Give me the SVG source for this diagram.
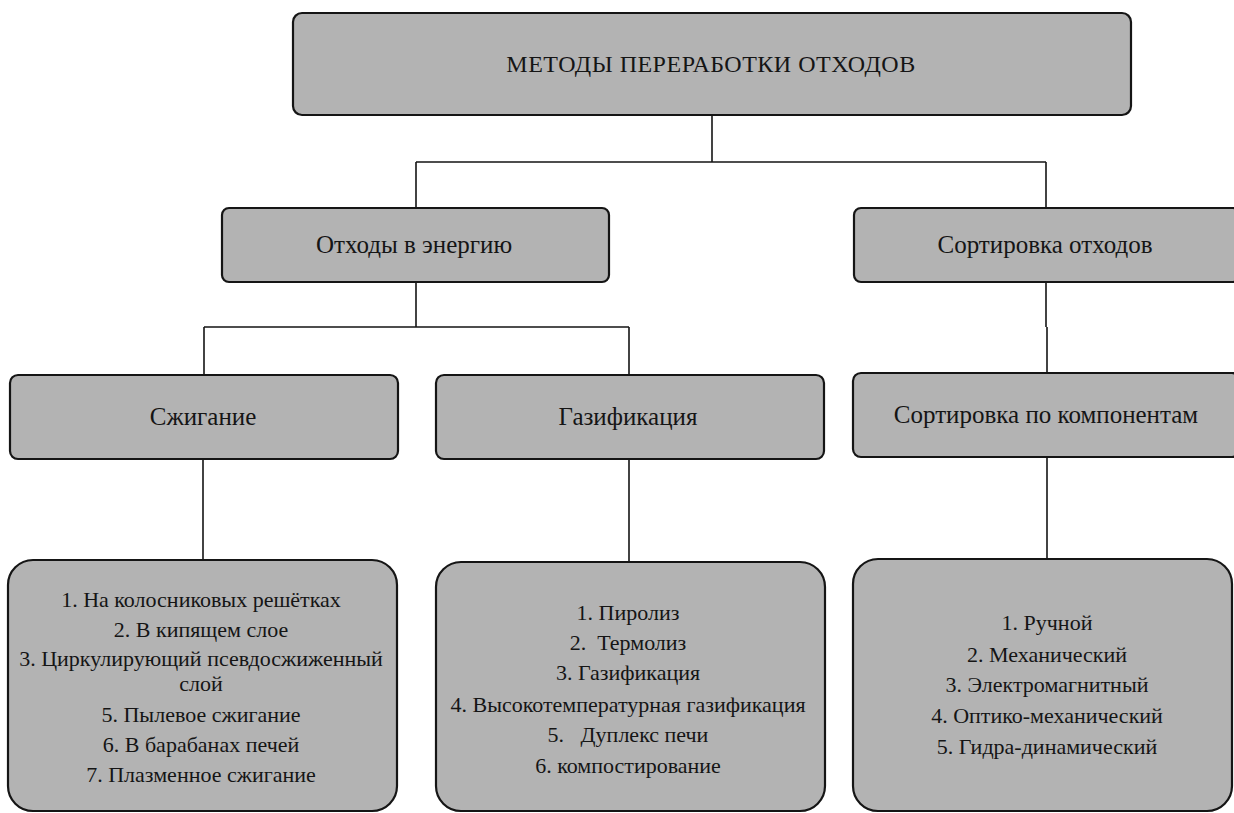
<svg xmlns="http://www.w3.org/2000/svg" width="1234" height="813" viewBox="0 0 1234 813">
<style>
.box{fill:#b3b3b3;stroke:#151515;stroke-width:2.2}
.t{fill:#151515;text-anchor:middle;font-family:'Liberation Serif','Times New Roman',serif}
.h{font-size:25px}
.l{font-size:22px}
.c{stroke:#151515;stroke-width:1.6;fill:none}
</style>
<rect width="1234" height="813" fill="#fff"/>
<g id="connectors">
<path class="c" d="M712 115V162" stroke-width="2.6"/>
<path class="c" d="M416 162H1046M416 162V208M1046 162V208"/>
<path class="c" d="M416 282V327M204 327H629M204 327V375M629 327V375"/>
<path class="c" d="M1046 282V327M1047 327V373"/>
<path class="c" d="M203 459V560M629 459V562M1047 457V559"/>
</g>
<g id="n-root"><rect class="box" x="293" y="13" width="838" height="102" rx="9"/><text class="t" x="711" y="72" font-size="24" letter-spacing="0.5">МЕТОДЫ ПЕРЕРАБОТКИ ОТХОДОВ</text></g>
<g id="n-energy"><rect class="box" x="222" y="208" width="387" height="74" rx="7"/><text class="t h" x="414" y="253">Отходы в энергию</text></g>
<g id="n-sort"><rect class="box" x="854" y="208" width="386" height="74" rx="7"/><text class="t h" x="1045" y="253">Сортировка отходов</text></g>
<g id="n-burn"><rect class="box" x="10" y="375" width="388" height="84" rx="8"/><text class="t h" x="203" y="425">Сжигание</text></g>
<g id="n-gas"><rect class="box" x="436" y="375" width="388" height="84" rx="8"/><text class="t h" x="628" y="425">Газификация</text></g>
<g id="n-comp"><rect class="box" x="853" y="373" width="387" height="84" rx="8"/><text class="t h" x="1046" y="423">Сортировка по компонентам</text></g>
<g id="n-burn-list"><rect class="box" x="8" y="560" width="389" height="251" rx="25"/>
<text class="t l"><tspan x="201" y="607">1. На колосниковых решётках</tspan><tspan x="201" y="637">2. В кипящем слое</tspan><tspan x="201" y="666">3. Циркулирующий псевдосжиженный</tspan><tspan x="201" y="691">слой</tspan><tspan x="201" y="722">5. Пылевое сжигание</tspan><tspan x="201" y="752">6. В барабанах печей</tspan><tspan x="201" y="782">7. Плазменное сжигание</tspan></text></g>
<g id="n-gas-list"><rect class="box" x="436" y="562" width="389" height="249" rx="25"/>
<text class="t l" xml:space="preserve"><tspan x="628" y="620">1. Пиролиз</tspan><tspan x="628" y="650">2.  Термолиз</tspan><tspan x="628" y="680">3. Газификация</tspan><tspan x="628" y="712">4. Высокотемпературная газификация</tspan><tspan x="628" y="742">5.   Дуплекс печи</tspan><tspan x="628" y="773">6. компостирование</tspan></text></g>
<g id="n-comp-list"><rect class="box" x="853" y="559" width="379" height="252" rx="25"/>
<text class="t l"><tspan x="1047" y="630">1. Ручной</tspan><tspan x="1047" y="662">2. Механический</tspan><tspan x="1047" y="692">3. Электромагнитный</tspan><tspan x="1047" y="723">4. Оптико-механический</tspan><tspan x="1047" y="754">5. Гидра-динамический</tspan></text></g>
</svg>
